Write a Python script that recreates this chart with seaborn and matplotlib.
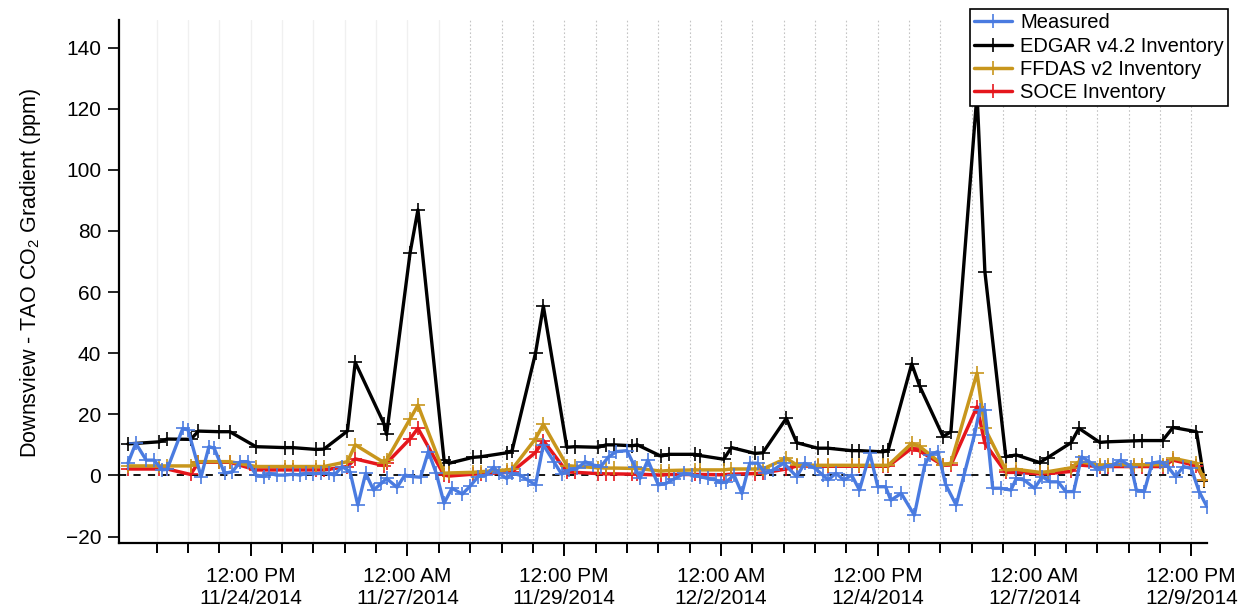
import matplotlib
matplotlib.use("Agg")
import matplotlib.pyplot as plt
import matplotlib.ticker as mticker
import matplotlib.dates as mdates
import seaborn as sns
import pandas as pd

# hours after 2014-11-23 00:00
meas_hours = [-11, -8, -4, -1, 2, 4, 10, 12, 17, 20, 22, 26, 29, 32, 35, 38, 41, 43, 46, 49,
              52, 55, 57, 60, 63, 66, 68, 71, 74, 77, 80, 83, 86, 88, 92, 95, 98, 101, 104, 107,
              110, 113, 117, 120, 123, 126, 129, 131, 134, 136, 139, 142, 145, 148, 152, 155, 158, 161, 164, 167,
              170, 173, 176, 180, 183, 185, 188, 192, 195, 198, 202, 205, 208, 211, 214, 216, 218, 221, 224, 227,
              230, 233, 236, 240, 245, 248, 252, 255, 257, 260, 263, 266, 269, 273, 276, 279, 281, 285, 290, 294,
              296, 299, 302, 306, 309, 313, 315, 317, 320, 323, 327, 329, 332, 336, 339, 342, 345, 348, 351, 354,
              357, 360, 363, 366, 369, 373, 375, 378, 381, 384, 387, 390, 393, 396, 399, 402]
measured = [4.0, 10.5, 5.0, 5.0, 1.8, 2.0, 15.4, 14.9, -0.4, 9.4, 8.9, 0.7, 1.2, 4.5, 4.5, 0.1, -0.4, 0.7, 0.1, 0.1,
            0.4, 0.1, 0.7, 0.5, 0.7, 0.7, 0.1, 2.9, 1.2, -9.7, 0.7, -4.8, -2.6, -1.0, -3.9, 0.1, -0.4, -0.6, 7.8, 0.7,
            -9.1, -4.2, -6.1, -3.5, -0.4, 0.1, 2.7, 0.7, -1.0, 0.7, 0.1, -1.5, -3.1, 10.0, 4.5, 0.4, 1.8, 2.3, 4.5, 3.4,
            2.9, 6.1, 7.8, 8.1, 2.9, -1.0, 5.0, -3.1, -2.6, -1.2, 0.7, 0.1, -0.4, -1.0, -1.5, -2.4, -2.1, 0.1, -5.9, 4.0,
            4.0, 0.7, 1.8, 4.0, -0.4, 4.0, 2.3, 0.1, -1.5, 0.7, -1.5, 0.1, -4.8, 7.2, -3.7, -3.7, -8.1, -5.9, -13.0, 3.4,
            6.7, 7.8, -3.0, -9.7, 0.1, 13.2, 21.4, 21.4, -4.2, -4.2, -4.8, -1.0, -1.5, -4.2, -0.4, -2.1, -2.1, -5.3, -5.3, 6.1,
            4.5, 1.8, 2.9, 3.4, 5.0, 2.9, -4.8, -5.3, 4.0, 4.5, 2.9, -0.4, 2.9, 2.3, -5.3, -10.2]

inv_hours = [-11, 1, 4, 13, 16, 24, 28, 38, 49, 52, 61, 64, 73, 76, 87, 88, 97, 100, 110, 112,
             121, 124, 134, 136, 145, 148, 157, 160, 169, 172, 175, 182, 184, 193, 196, 206, 208, 217, 220, 229,
             232, 241, 245, 253, 257, 266, 269, 278, 280, 289, 292, 301, 304, 314, 317, 325, 329, 338, 341, 350,
             353, 361, 364, 374, 377, 385, 389, 398, 401]
edgar = [10.3, 11.0, 11.9, 11.8, 14.5, 14.3, 14.3, 9.4, 9.1, 9.1, 8.5, 8.6, 14.5, 37.0, 16.9, 13.4, 72.9, 86.9, 5.0, 4.0,
         5.9, 6.1, 7.4, 8.0, 40.0, 55.4, 9.2, 9.4, 9.2, 10.0, 10.0, 9.7, 10.0, 6.3, 6.9, 6.9, 6.5, 5.3, 9.1, 7.2,
         7.4, 18.7, 10.7, 8.9, 8.9, 8.1, 8.1, 7.7, 8.3, 36.5, 29.3, 12.7, 14.3, 125.0, 66.7, 6.1, 6.7, 4.2, 5.8, 10.7,
         15.4, 10.8, 11.0, 11.3, 11.4, 11.4, 15.7, 14.3, -1.8]
ffdas = [3.1, 3.1, 3.1, 3.1, 4.5, 4.5, 4.5, 2.9, 2.9, 2.9, 2.9, 2.9, 4.5, 10.0, 4.2, 5.0, 18.5, 23.0, 0.7, 0.8,
         1.0, 1.2, 1.8, 2.0, 12.0, 16.7, 3.2, 3.0, 2.5, 2.4, 2.4, 2.3, 2.3, 1.4, 1.6, 1.8, 1.8, 1.8, 2.1, 2.1,
         2.1, 5.6, 3.4, 3.3, 3.3, 3.3, 3.3, 3.3, 3.3, 10.5, 9.5, 3.4, 4.0, 33.5, 15.4, 1.8, 2.0, 1.0, 1.2, 2.5,
         4.5, 3.4, 3.5, 3.5, 3.5, 3.5, 5.6, 4.0, -1.5]
soce = [2.1, 2.1, 2.1, 0.3, 4.3, 4.3, 4.3, 1.8, 1.8, 1.8, 1.8, 1.8, 2.9, 5.4, 3.2, 4.0, 12.0, 15.4, 0.1, -0.2,
        0.4, 0.5, 1.0, 1.2, 7.5, 11.4, 1.2, 1.0, 0.6, 0.5, 0.5, 0.4, 0.4, 0.1, 0.3, 0.3, 0.3, 0.2, 0.4, 0.6,
        0.8, 2.1, 3.1, 3.0, 3.0, 3.0, 3.0, 3.0, 3.0, 8.9, 8.0, 3.3, 3.4, 22.5, 10.5, 1.0, 1.0, 0.5, 0.6, 1.3,
        3.4, 2.9, 2.9, 2.9, 2.9, 2.9, 5.0, 3.2, -1.5]

labels = ["Measured", "EDGAR v4.2 Inventory", "FFDAS v2 Inventory", "SOCE Inventory"]
colors = ["#4a7be0", "#000000", "#c8961c", "#e5161c"]

start = pd.Timestamp("2014-11-23 00:00")
major_ticks = pd.to_datetime(["2014-11-24 12:00", "2014-11-27 00:00", "2014-11-29 12:00",
                              "2014-12-02 00:00", "2014-12-04 12:00", "2014-12-07 00:00",
                              "2014-12-09 12:00"])


def to_time(hours):
    return start + pd.to_timedelta(hours, unit="h")


def main() -> None:
    sns.set_style("ticks")
    plt.rcParams["font.family"] = ["Liberation Sans", "DejaVu Sans"]
    plt.rcParams["mathtext.default"] = "regular"
    plt.rcParams["text.color"] = "black"
    plt.rcParams["axes.labelcolor"] = "black"
    plt.rcParams["xtick.color"] = "black"
    plt.rcParams["ytick.color"] = "black"
    plt.rcParams["axes.edgecolor"] = "black"

    fig = plt.figure(figsize=(12.48, 6.08), dpi=100)
    ax = fig.add_axes([0.0954, 0.107, 0.8717, 0.860])

    df_meas = pd.DataFrame({"time": to_time(meas_hours), "value": measured})
    df_inv = pd.DataFrame({"time": to_time(inv_hours), "edgar": edgar, "ffdas": ffdas, "soce": soce})

    common = dict(marker="+", markersize=10, markeredgewidth=1.2, ax=ax)
    sns.lineplot(data=df_inv, x="time", y="edgar", color=colors[1], linewidth=2.4,
                 markeredgecolor=colors[1], label=labels[1], zorder=3, **common)
    sns.lineplot(data=df_inv, x="time", y="soce", color=colors[3], linewidth=2.5,
                 markeredgecolor=colors[3], label=labels[3], zorder=4, **common)
    sns.lineplot(data=df_inv, x="time", y="ffdas", color=colors[2], linewidth=2.5,
                 markeredgecolor=colors[2], label=labels[2], zorder=5, **common)
    sns.lineplot(data=df_meas, x="time", y="value", color=colors[0], linewidth=2.4,
                 markeredgecolor=colors[0], label=labels[0], zorder=6, **common)

    ax.axhline(0, color="black", linestyle=(0, (4, 4)), linewidth=1.3, zorder=2)

    # vertical grid every 12 hours
    for t in pd.date_range("2014-11-23 00:00", "2014-12-09 12:00", freq="12h"):
        if t < pd.Timestamp("2014-11-28 00:00"):
            ax.axvline(t, color="#f0f0f0", linewidth=1.0, zorder=0)
        else:
            ax.axvline(t, color="#c4c4c4", linewidth=0.8, linestyle=(0, (1.5, 2)), zorder=0)

    ax.set_xlim(to_time(-14.4), to_time(402))
    ax.set_ylim(-22.1, 149)
    ax.yaxis.set_major_locator(mticker.MultipleLocator(20))

    ax.xaxis.set_major_locator(mticker.FixedLocator(mdates.date2num(major_ticks)))
    ax.xaxis.set_minor_locator(mticker.FixedLocator(
        mdates.date2num(pd.date_range("2014-11-23 00:00", "2014-12-09 12:00", freq="12h"))))

    def fmt(x, pos=None):
        d = mdates.num2date(x)
        return f"{d:%I:%M %p}\n{d.month}/{d.day}/{d.year}"

    ax.xaxis.set_major_formatter(mticker.FuncFormatter(fmt))

    ax.tick_params(axis="x", which="major", length=9, width=1.4, labelsize=15, pad=8, direction="out")
    ax.tick_params(axis="x", which="minor", length=7, width=1.4, direction="out")
    ax.tick_params(axis="y", which="major", length=8, width=1.2, labelsize=15, pad=5, direction="out")
    for lbl in ax.get_xticklabels():
        lbl.set_linespacing(1.25)

    ax.set_xlabel("")
    ax.set_ylabel("Downsview - TAO CO$_2$ Gradient (ppm)", fontsize=15.5, labelpad=10)
    ax.yaxis.set_label_coords(-0.07, 0.516)

    sns.despine(ax=ax)
    ax.spines["left"].set_linewidth(1.6)
    ax.spines["bottom"].set_linewidth(1.6)

    handles, lbls = ax.get_legend_handles_labels()
    order = [lbls.index(l) for l in labels]
    leg = ax.legend([handles[i] for i in order], [lbls[i] for i in order],
                    loc="upper right", bbox_to_anchor=(0.984, 0.985), bbox_transform=fig.transFigure,
                    fontsize=14.5, frameon=True, fancybox=False, framealpha=1, edgecolor="black",
                    borderpad=0.2, labelspacing=0.22, handlelength=1.9, handletextpad=0.4,
                    borderaxespad=0)
    leg.get_frame().set_linewidth(1.2)
    leg.set_zorder(10)

    fig.savefig("out.png", dpi=100)
    plt.close(fig)


if __name__ == "__main__":
    main()
